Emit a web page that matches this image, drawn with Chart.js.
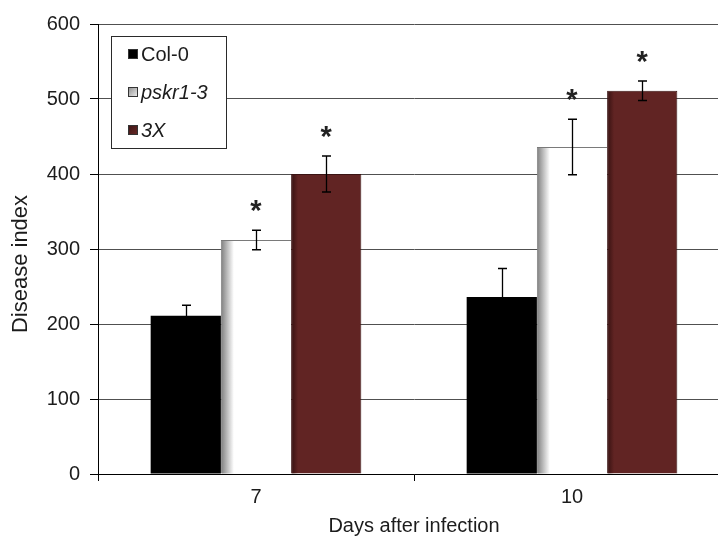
<!DOCTYPE html>
<html>
<head>
<meta charset="utf-8">
<script src="https://cdn.jsdelivr.net/npm/chart.js@4/dist/chart.umd.min.js"></script>
<style>
  html, body { margin: 0; padding: 0; background: #ffffff; overflow: hidden; }
  #wrap { width: 718px; height: 537px; overflow: hidden; position: relative; }
  canvas { display: block; }
</style>
</head>
<body>
<div id="wrap"><canvas id="chart" width="740" height="537"></canvas></div>
<script>
// Disease index after infection, three genotypes
const days = ['7', '10'];
const col0 = [211, 236];
const col0Err = [14, 38];
const pskr = [312, 436];
const pskrErr = [13, 37];
const triple = [400, 511];
const tripleErr = [24, 13];
// significance marks (*) per series
const starred = [false, true, true];
const seriesNames = ['Col-0', 'pskr1-3', '3X'];
const seriesItalic = [false, true, true];
const yMin = 0, yMax = 600, yStep = 100;
const yTitle = 'Disease index';
const xTitle = 'Days after infection';

const FONT = "'Liberation Sans', Arial, sans-serif";
const TEXT = '#1c1c1c';
const errs = [col0Err, pskrErr, tripleErr];

// bar shading, error bars and significance stars
const decor = {
  id: 'decor',
  afterDatasetsDraw(chart) {
    const ctx = chart.ctx;
    const y = chart.scales.y;
    ctx.save();
    // soft shading along the left edge of the pskr1-3 and 3X bars
    [[1, 'rgba(95,95,95,0.75)', 12], [2, 'rgba(30,6,6,0.55)', 6]].forEach(([di, col, w]) => {
      chart.getDatasetMeta(di).data.forEach(el => {
        const x0 = el.x - el.width / 2 + 1;
        const g = ctx.createLinearGradient(x0, 0, x0 + w, 0);
        g.addColorStop(0, col);
        g.addColorStop(1, col.replace(/[\d.]+\)$/, '0)'));
        ctx.fillStyle = g;
        ctx.fillRect(x0, el.y + 1, w, el.base - el.y - 1);
      });
    });
    chart.data.datasets.forEach((ds, di) => {
      const meta = chart.getDatasetMeta(di);
      meta.data.forEach((el, i) => {
        const v = ds.data[i], e = errs[di][i];
        const yt = y.getPixelForValue(v + e);
        const yb = y.getPixelForValue(v - e);
        const x = Math.round(el.x) + 0.5;
        ctx.strokeStyle = '#000';
        ctx.lineWidth = 1.3;
        ctx.beginPath();
        ctx.moveTo(x, yt); ctx.lineTo(x, yb);
        ctx.moveTo(x - 4.5, yt); ctx.lineTo(x + 4.5, yt);
        ctx.moveTo(x - 4.5, yb); ctx.lineTo(x + 4.5, yb);
        ctx.stroke();
        if (starred[di]) {
          ctx.font = 'bold 29px ' + FONT;
          ctx.fillStyle = '#222';
          ctx.textAlign = 'center';
          ctx.textBaseline = 'alphabetic';
          const m = ctx.measureText('*');
          const cy = yt - 24;
          ctx.fillText('*', el.x, cy - (m.actualBoundingBoxDescent - m.actualBoundingBoxAscent) / 2);
        }
      });
    });
    ctx.restore();
  }
};

// boxed legend inside the plot area, and the rotated value-axis title
const boxLegend = {
  id: 'boxLegend',
  afterDraw(chart) {
    const ctx = chart.ctx;
    const bx = 111.5, by = 36.5, bw = 115, bh = 112;
    ctx.save();
    ctx.fillStyle = '#fff';
    ctx.fillRect(bx, by, bw, bh);
    ctx.strokeStyle = '#2a2a2a';
    ctx.lineWidth = 1;
    ctx.strokeRect(bx, by, bw, bh);
    const rows = [54, 92, 130];
    chart.data.datasets.forEach((ds, i) => {
      const cy = rows[i];
      const sx = 128, sy = cy - 5;
      let fill = ds.backgroundColor;
      if (i === 1) {
        const g = ctx.createLinearGradient(sx, sy, sx + 10, sy + 10);
        g.addColorStop(0, '#8a8a8a'); g.addColorStop(1, '#f2f2f2');
        fill = g;
      } else if (i === 2) {
        const g = ctx.createLinearGradient(sx, sy, sx + 10, sy + 10);
        g.addColorStop(0, '#3a1414'); g.addColorStop(1, '#6a2a28');
        fill = g;
      }
      ctx.fillStyle = fill;
      ctx.fillRect(sx, sy, 10, 10);
      ctx.strokeStyle = '#333';
      ctx.strokeRect(sx + 0.5, sy + 0.5, 9, 9);
      ctx.fillStyle = TEXT;
      ctx.font = (seriesItalic[i] ? 'italic ' : '') + '20px ' + FONT;
      ctx.textAlign = 'left';
      ctx.textBaseline = 'middle';
      ctx.fillText(ds.label, 141, cy + 1);
    });

    // value-axis title
    ctx.translate(21, 264);
    ctx.rotate(-Math.PI / 2);
    ctx.font = '22px ' + FONT;
    ctx.textAlign = 'center';
    ctx.textBaseline = 'middle';
    ctx.fillStyle = TEXT;
    ctx.fillText(yTitle, 0, 0);
    ctx.restore();
  }
};

new Chart(document.getElementById('chart'), {
  type: 'bar',
  data: {
    labels: days,
    datasets: [
      { label: seriesNames[0], data: col0, backgroundColor: '#000000', borderWidth: 0 },
      { label: seriesNames[1], data: pskr, backgroundColor: '#ffffff', borderColor: '#7a7a7a',
        borderWidth: { top: 1, left: 1, right: 0, bottom: 0 } },
      { label: seriesNames[2], data: triple, backgroundColor: '#612423', borderColor: '#3a1313',
        borderWidth: { top: 1, left: 1, right: 1, bottom: 0 } }
    ]
  },
  options: {
    responsive: false,
    animation: false,
    devicePixelRatio: 1,
    layout: { padding: { top: 24, right: 10, left: 0, bottom: 0 } },
    datasets: { bar: { categoryPercentage: 2 / 3, barPercentage: 1 } },
    plugins: { legend: { display: false }, tooltip: { enabled: false } },
    scales: {
      x: {
        offset: true,
        grid: { display: true, offset: true, drawOnChartArea: false, tickLength: 7, tickColor: '#000', lineWidth: 1 },
        border: { color: '#000', width: 1 },
        ticks: { color: TEXT, font: { family: FONT, size: 20 }, padding: 4 },
        title: { display: true, text: xTitle, color: TEXT,
                 font: { family: FONT, size: 20, lineHeight: 1 }, padding: { top: 0, bottom: 1 } },
        afterFit(s) { s.height = 63; }
      },
      y: {
        min: yMin, max: yMax,
        ticks: { stepSize: yStep, color: TEXT, font: { family: FONT, size: 20 }, padding: 10 },
        grid: { color: '#505050', tickColor: '#000', tickLength: 8, lineWidth: 1 },
        border: { color: '#000', width: 1 },
        afterFit(s) { s.width = 98; }
      }
    }
  },
  plugins: [decor, boxLegend]
});
</script>
</body>
</html>
